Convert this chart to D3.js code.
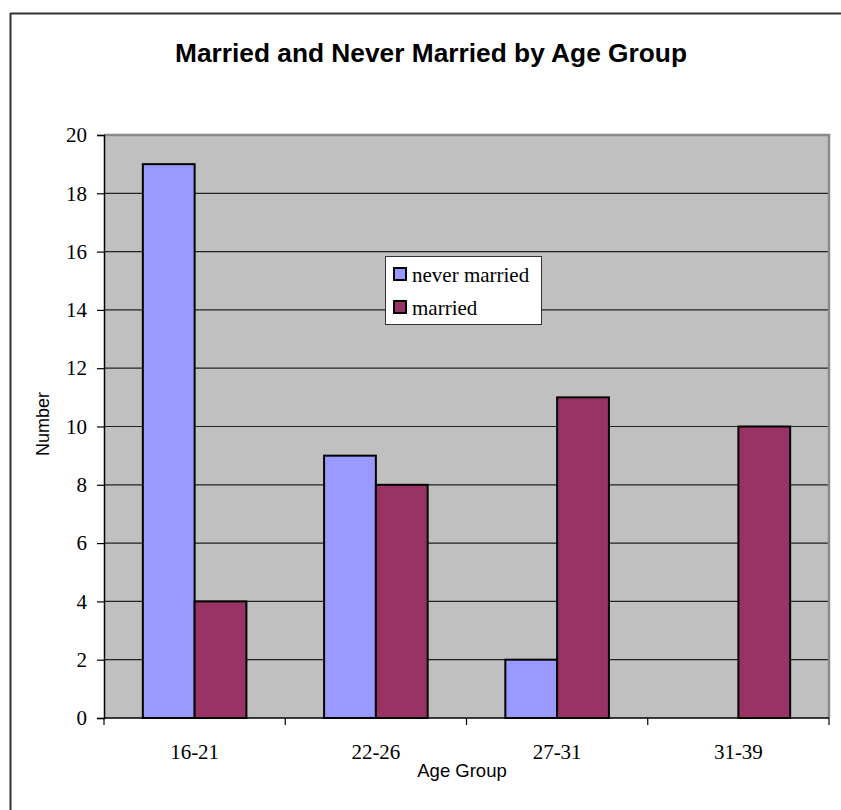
<!DOCTYPE html>
<html>
<head>
<meta charset="utf-8">
<script src="https://cdn.jsdelivr.net/npm/d3@7"></script>
<style>
  html, body { margin: 0; padding: 0; background: #fff; overflow: hidden; }
  svg { display: block; }
</style>
</head>
<body>
<svg id="chart" width="841" height="810"></svg>
<script>
// Age groups and counts per series
const categories = ["16-21", "22-26", "27-31", "31-39"];
const seriesNames = ["never married", "married"];
const neverMarried = [19, 9, 2, 0];
const married = [4, 8, 11, 10];
const yTicks = [0, 2, 4, 6, 8, 10, 12, 14, 16, 18, 20];

const colors = { "never married": "#9999FF", "married": "#993366" };
const values = { "never married": neverMarried, "married": married };

const svg = d3.select("#chart");
const plot = { left: 104, right: 829, top: 135, bottom: 718 };

// Outer chart frame (left and top edges)
svg.append("line")
  .attr("x1", 10.5).attr("x2", 10.5).attr("y1", 13).attr("y2", 810)
  .attr("stroke", "#333").attr("stroke-width", 2);
svg.append("line")
  .attr("x1", 10).attr("x2", 841).attr("y1", 13.5).attr("y2", 13.5)
  .attr("stroke", "#333").attr("stroke-width", 2);

// Title
svg.append("text")
  .attr("x", 431).attr("y", 62)
  .attr("text-anchor", "middle")
  .attr("font-family", "Liberation Sans, Arial, sans-serif")
  .attr("font-weight", "bold").attr("font-size", 26.3)
  .text("Married and Never Married by Age Group");

const x = d3.scaleBand().domain(categories).range([plot.left, plot.right]).padding(0);
const xInner = d3.scaleBand().domain(seriesNames).range([0, x.bandwidth()])
  .paddingInner(0).paddingOuter(0.75);
const y = d3.scaleLinear().domain([0, 20]).range([plot.bottom, plot.top]);

// Plot area background
svg.append("rect")
  .attr("x", plot.left).attr("y", plot.top)
  .attr("width", plot.right - plot.left).attr("height", plot.bottom - plot.top)
  .attr("fill", "#C0C0C0");

// Horizontal gridlines
svg.append("g").selectAll("line")
  .data(yTicks.filter(t => t > 0 && t < 20))
  .join("line")
  .attr("x1", plot.left).attr("x2", plot.right)
  .attr("y1", d => y(d)).attr("y2", d => y(d))
  .attr("stroke", "#222").attr("stroke-width", 1.2);

// Plot area border (top and right)
svg.append("path")
  .attr("d", `M${plot.left},${plot.top} H${plot.right} V${plot.bottom}`)
  .attr("fill", "none").attr("stroke", "#8a8a8a").attr("stroke-width", 2.5);

// Bars
const groups = svg.append("g").selectAll("g")
  .data(categories)
  .join("g")
  .attr("transform", d => `translate(${x(d)},0)`);

groups.selectAll("rect")
  .data((c, i) => seriesNames.map(s => ({ s, v: values[s][i] })).filter(d => d.v > 0))
  .join("rect")
  .attr("x", d => xInner(d.s))
  .attr("y", d => y(d.v))
  .attr("width", xInner.bandwidth())
  .attr("height", d => y(0) - y(d.v))
  .attr("fill", d => colors[d.s])
  .attr("stroke", "#000").attr("stroke-width", 2);

// Y axis
const yAxis = svg.append("g")
  .attr("transform", `translate(${plot.left},0)`)
  .call(d3.axisLeft(y).tickValues(yTicks).tickSize(7).tickPadding(10).tickFormat(d3.format("d")));
yAxis.select(".domain").attr("stroke", "#000").attr("stroke-width", 1.5);
yAxis.selectAll(".tick line").attr("stroke", "#000").attr("stroke-width", 1.2);
yAxis.selectAll(".tick text")
  .attr("font-family", "Liberation Serif, Times New Roman, serif")
  .attr("font-size", 21).attr("fill", "#000");

// X axis line and boundary ticks
svg.append("line")
  .attr("x1", plot.left).attr("x2", plot.right)
  .attr("y1", plot.bottom).attr("y2", plot.bottom)
  .attr("stroke", "#000").attr("stroke-width", 1.5);
const boundaries = categories.map(c => x(c)).concat([x.range()[1]]);
svg.append("g").selectAll("line")
  .data(boundaries)
  .join("line")
  .attr("x1", d => d).attr("x2", d => d)
  .attr("y1", plot.bottom).attr("y2", plot.bottom + 7)
  .attr("stroke", "#000").attr("stroke-width", 1.2);

// Category labels
svg.append("g").selectAll("text")
  .data(categories)
  .join("text")
  .attr("x", d => x(d) + x.bandwidth() / 2)
  .attr("y", 759)
  .attr("text-anchor", "middle")
  .attr("font-family", "Liberation Serif, Times New Roman, serif")
  .attr("font-size", 21)
  .text(d => d);

// Axis titles
svg.append("text")
  .attr("x", 462).attr("y", 777)
  .attr("text-anchor", "middle")
  .attr("font-family", "Liberation Sans, Arial, sans-serif")
  .attr("font-size", 18.5)
  .text("Age Group");

svg.append("text")
  .attr("transform", "translate(49,424) rotate(-90)")
  .attr("text-anchor", "middle")
  .attr("font-family", "Liberation Sans, Arial, sans-serif")
  .attr("font-size", 18)
  .text("Number");

// Legend
const legend = svg.append("g").attr("transform", "translate(385,256)");
legend.append("rect")
  .attr("x", 0.5).attr("y", 0.5).attr("width", 156).attr("height", 68)
  .attr("fill", "#fff").attr("stroke", "#333").attr("stroke-width", 1);
const items = legend.selectAll("g.item")
  .data(seriesNames)
  .join("g")
  .attr("class", "item")
  .attr("transform", (d, i) => `translate(0,${i * 33})`);
items.append("rect")
  .attr("x", 9).attr("y", 12).attr("width", 12).attr("height", 12)
  .attr("fill", d => colors[d]).attr("stroke", "#000").attr("stroke-width", 2);
items.append("text")
  .attr("x", 27).attr("y", 26)
  .attr("font-family", "Liberation Serif, Times New Roman, serif")
  .attr("font-size", 21)
  .text(d => d);
</script>
</body>
</html>
